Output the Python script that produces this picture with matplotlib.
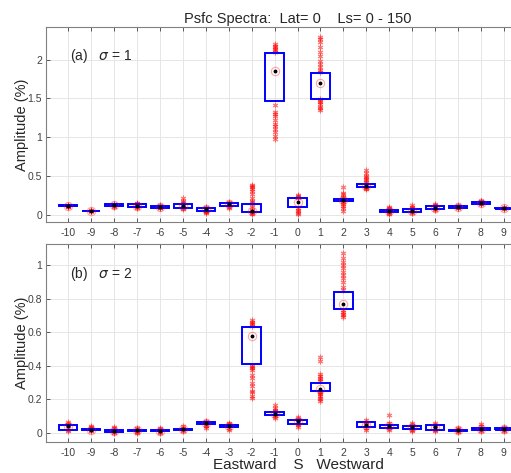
import matplotlib.pyplot as plt
import numpy as np

plt.rcParams['font.family'] = ['Liberation Sans', 'DejaVu Sans']
plt.rcParams['axes.unicode_minus'] = False

waves = list(range(-10, 10))

# panel (a) sigma = 1
lo_a = [0.105, 0.04, 0.11, 0.10, 0.09, 0.09, 0.05, 0.11, 0.03, 1.46,
        0.10, 1.49, 0.17, 0.35, 0.03, 0.03, 0.07, 0.09, 0.14, 0.075]
hi_a = [0.12, 0.05, 0.13, 0.13, 0.11, 0.13, 0.09, 0.15, 0.13, 2.08,
        0.22, 1.82, 0.20, 0.39, 0.06, 0.07, 0.11, 0.11, 0.16, 0.085]
mean_a = [0.11, 0.045, 0.12, 0.115, 0.10, 0.11, 0.07, 0.13, 0.05, 1.85,
          0.16, 1.70, 0.19, 0.37, 0.04, 0.05, 0.09, 0.10, 0.15, 0.08]
pts_a = [
    [0.10, 0.105, 0.11, 0.115, 0.12, 0.11, 0.105],
    [0.04, 0.045, 0.05, 0.055, 0.045],
    [0.10, 0.11, 0.12, 0.13, 0.14, 0.125],
    [0.09, 0.10, 0.11, 0.12, 0.13, 0.14, 0.155, 0.115],
    [0.08, 0.09, 0.10, 0.11, 0.12, 0.095],
    [0.07, 0.08, 0.10, 0.12, 0.14, 0.16, 0.18, 0.21],
    [0.02, 0.03, 0.05, 0.07, 0.09, 0.10, 0.04],
    [0.08, 0.10, 0.12, 0.13, 0.14, 0.15, 0.16],
    [0.01, 0.02, 0.03, 0.04, 0.06, 0.10, 0.14, 0.16, 0.18, 0.22, 0.26,
     0.30, 0.33, 0.35, 0.37, 0.38],
    [0.98, 1.01, 1.06, 1.10, 1.14, 1.17, 1.22, 1.27, 1.30, 1.32, 1.41,
     2.10, 2.12, 2.14, 2.16, 2.18, 2.20],
    [0.01, 0.02, 0.04, 0.06, 0.08, 0.22, 0.23, 0.24, 0.25],
    [1.35, 1.37, 1.39, 1.42, 1.45, 1.47, 1.49, 1.84, 1.86, 1.90, 1.94,
     1.98, 2.05, 2.10, 2.16, 2.22, 2.26, 2.29],
    [0.05, 0.08, 0.11, 0.14, 0.16, 0.18, 0.21, 0.23, 0.26, 0.28, 0.36],
    [0.33, 0.34, 0.35, 0.36, 0.40, 0.42, 0.44, 0.46, 0.48, 0.50, 0.53, 0.57],
    [0.01, 0.02, 0.03, 0.05, 0.07, 0.08, 0.10],
    [0.02, 0.03, 0.05, 0.07, 0.09, 0.10, 0.12],
    [0.06, 0.07, 0.09, 0.11, 0.12, 0.14],
    [0.08, 0.09, 0.10, 0.11, 0.12],
    [0.13, 0.14, 0.15, 0.16, 0.17, 0.18],
    [0.07, 0.08, 0.09, 0.10],
]

# panel (b) sigma = 2
lo_b = [0.02, 0.015, 0.005, 0.01, 0.01, 0.02, 0.055, 0.035, 0.41, 0.105,
        0.055, 0.25, 0.74, 0.035, 0.03, 0.025, 0.02, 0.01, 0.02, 0.02]
hi_b = [0.05, 0.025, 0.015, 0.02, 0.015, 0.025, 0.065, 0.05, 0.63, 0.125,
        0.08, 0.30, 0.84, 0.065, 0.05, 0.04, 0.045, 0.02, 0.03, 0.03]
mean_b = [0.04, 0.02, 0.01, 0.015, 0.012, 0.022, 0.06, 0.04, 0.58, 0.115,
          0.07, 0.26, 0.77, 0.05, 0.04, 0.035, 0.035, 0.015, 0.025, 0.025]
pts_b = [
    [0.01, 0.02, 0.03, 0.045, 0.055, 0.065],
    [0.01, 0.015, 0.02, 0.03, 0.035, 0.04],
    [0.0, 0.005, 0.01, 0.02, 0.03, 0.035],
    [0.0, 0.005, 0.01, 0.02, 0.025, 0.03],
    [0.0, 0.005, 0.01, 0.02, 0.025, 0.03],
    [0.01, 0.015, 0.025, 0.03, 0.04],
    [0.03, 0.04, 0.05, 0.06, 0.065, 0.07],
    [0.02, 0.03, 0.04, 0.05, 0.055, 0.06],
    [0.21, 0.22, 0.245, 0.25, 0.28, 0.30, 0.325, 0.345, 0.375, 0.385,
     0.395, 0.40, 0.64, 0.65, 0.655, 0.66, 0.67],
    [0.09, 0.10, 0.11, 0.125, 0.13, 0.14, 0.15, 0.165],
    [0.035, 0.045, 0.055, 0.065, 0.075, 0.085, 0.095],
    [0.19, 0.20, 0.21, 0.22, 0.23, 0.24, 0.245, 0.31, 0.32, 0.33, 0.34,
     0.35, 0.43, 0.45],
    [0.69, 0.70, 0.71, 0.72, 0.73, 0.85, 0.87, 0.90, 0.92, 0.94, 0.96,
     0.98, 1.00, 1.02, 1.04, 1.07],
    [0.02, 0.03, 0.045, 0.055, 0.065, 0.075],
    [0.02, 0.03, 0.04, 0.05, 0.06, 0.11],
    [0.01, 0.02, 0.03, 0.04, 0.05, 0.06],
    [0.01, 0.02, 0.03, 0.04, 0.05, 0.06],
    [0.005, 0.01, 0.015, 0.02, 0.025, 0.03],
    [0.01, 0.02, 0.03, 0.04, 0.055],
    [0.01, 0.02, 0.025, 0.03, 0.035],
]

fig = plt.figure(figsize=(5.11, 4.73), dpi=100)
# axes run past the right edge, as in the original (cropped) figure
ax1 = fig.add_axes((0.0906, 0.530, 0.985, 0.413))
ax2 = fig.add_axes((0.0906, 0.065, 0.985, 0.419))

asterisk = (6, 2, 0)


def draw_panel(ax, lo, hi, mean, pts, ylim, yticks, label):
    ax.grid(True, color='#e6e6e6', lw=0.7, zorder=0)
    ax.set_axisbelow(True)
    for x, vals in zip(waves, pts):
        ax.plot([x] * len(vals), vals, ls='none', marker=asterisk,
                ms=4, mew=0.8, color='red', alpha=0.5, zorder=3)
    lo = np.array(lo)
    hi = np.array(hi)
    ax.bar(waves, hi - lo, bottom=lo, width=0.8, fill=False,
           edgecolor='blue', lw=1.4, zorder=4)
    ax.plot(waves, mean, ls='none', marker='o', ms=6, mfc='none',
            mec='red', mew=0.8, alpha=0.35, zorder=5)
    ax.plot(waves, mean, ls='none', marker='o', ms=1.8, color='black',
            zorder=6)
    ax.set_xlim(-10.96, 11)
    ax.set_ylim(*ylim)
    ax.set_xticks(waves)
    ax.set_yticks(yticks)
    ax.set_yticklabels([('%g' % t) for t in yticks])
    ax.tick_params(direction='in', top=True, right=False, labelsize=7.5,
                   colors='#404040', length=3, width=0.6)
    ax.tick_params(axis='x', pad=4)
    ax.tick_params(axis='y', pad=3)
    for s in ax.spines.values():
        s.set_color('#808080')
        s.set_linewidth(0.8)
    ax.set_ylabel('Amplitude (%)', fontsize=10.5, color='#262626', labelpad=-1)
    ax.text(0.048, 0.85, label, transform=ax.transAxes, fontsize=10,
            color='#262626', va='center')


draw_panel(ax1, lo_a, hi_a, mean_a, pts_a, (-0.1, 2.42),
           [0, 0.5, 1, 1.5, 2], '(a)   $\\sigma$ = 1')
draw_panel(ax2, lo_b, hi_b, mean_b, pts_b, (-0.055, 1.125),
           [0, 0.2, 0.4, 0.6, 0.8, 1], '(b)   $\\sigma$ = 2')

ax1.set_title('Psfc Spectra:  Lat= 0    Ls= 0 - 150', fontsize=10.5,
              color='#262626', pad=3)
ax2.set_xlabel('Eastward    S   Westward', fontsize=11, color='#262626',
               labelpad=0)

fig.savefig('out.png', dpi=100)
